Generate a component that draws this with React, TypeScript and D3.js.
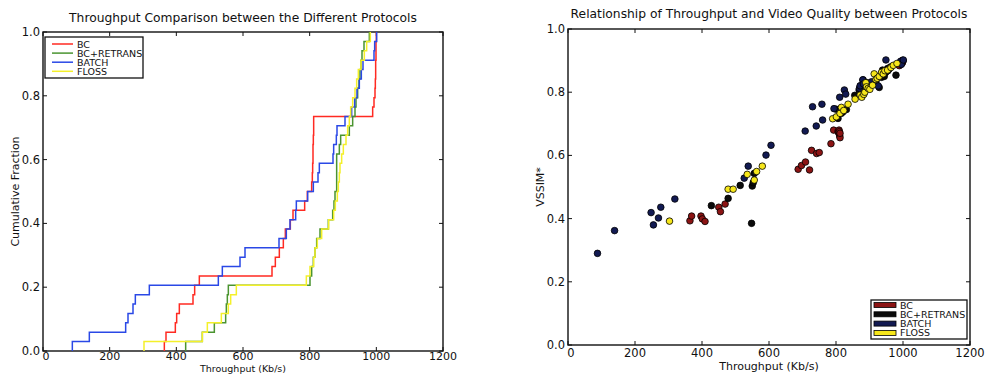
import React from "react";
import * as d3 from "d3";

const protocols = ["BC", "BC+RETRANS", "BATCH", "FLOSS"];

const bcThroughput = [364, 369, 397, 401, 409, 450, 455, 469, 687, 697, 709, 721, 727, 742, 750, 785, 793, 806, 808, 809, 810, 810, 811, 812, 812, 989, 993, 996, 997, 998, 998, 999, 999, 1000];
const bcVssim = [0.393, 0.408, 0.408, 0.399, 0.391, 0.436, 0.422, 0.446, 0.556, 0.568, 0.579, 0.554, 0.616, 0.606, 0.609, 0.637, 0.680, 0.676, 0.672, 0.680, 0.668, 0.675, 0.662, 0.656, 0.670, 0.884, 0.889, 0.893, 0.896, 0.899, 0.893, 0.901, 0.896, 0.899];

const retransThroughput = [428, 478, 514, 548, 550, 553, 556, 801, 806, 811, 816, 821, 831, 856, 869, 873, 876, 881, 881, 881, 881, 889, 893, 919, 929, 936, 939, 944, 948, 951, 954, 957, 963, 979];
const retransVssim = [0.441, 0.464, 0.505, 0.385, 0.503, 0.514, 0.543, 0.746, 0.717, 0.744, 0.733, 0.738, 0.745, 0.790, 0.807, 0.820, 0.800, 0.839, 0.815, 0.825, 0.810, 0.822, 0.830, 0.833, 0.815, 0.847, 0.870, 0.850, 0.862, 0.868, 0.875, 0.872, 0.880, 0.854];

const batchThroughput = [88, 139, 248, 255, 270, 277, 319, 526, 538, 591, 606, 708, 730, 741, 758, 760, 794, 811, 825, 829, 870, 872, 880, 882, 906, 926, 935, 942, 949, 955, 960, 993, 995, 1001];
const batchVssim = [0.290, 0.362, 0.419, 0.380, 0.402, 0.436, 0.462, 0.528, 0.566, 0.601, 0.632, 0.677, 0.754, 0.693, 0.762, 0.712, 0.748, 0.784, 0.807, 0.794, 0.812, 0.820, 0.839, 0.826, 0.833, 0.820, 0.857, 0.862, 0.902, 0.868, 0.876, 0.898, 0.888, 0.902];

const flossThroughput = [303, 478, 493, 535, 556, 563, 580, 790, 801, 812, 816, 823, 836, 857, 872, 877, 883, 886, 889, 891, 896, 901, 909, 914, 919, 923, 929, 936, 941, 946, 954, 964, 971, 982];
const flossVssim = [0.392, 0.493, 0.493, 0.540, 0.522, 0.549, 0.566, 0.716, 0.722, 0.733, 0.752, 0.742, 0.762, 0.778, 0.791, 0.784, 0.793, 0.800, 0.830, 0.817, 0.812, 0.809, 0.822, 0.858, 0.840, 0.844, 0.850, 0.863, 0.858, 0.868, 0.870, 0.878, 0.885, 0.891];

const xTicks = [0, 200, 400, 600, 800, 1000, 1200];
const yTicks = [0, 0.2, 0.4, 0.6, 0.8, 1.0];

const throughputs = [bcThroughput, retransThroughput, batchThroughput, flossThroughput];
const vssims = [bcVssim, retransVssim, batchVssim, flossVssim];

const lineColors = ["#ff2a22", "#4a9430", "#2a48e6", "#f4f02a"];
const dotColors = ["#8c1414", "#0b0b0b", "#121a52", "#f6e61a"];

const FONT = "DejaVu Sans, sans-serif";

type Box = { left: number; top: number; width: number; height: number };

function Frame({ box, xs, ys, title, titleY, xLabel, xLabelY, xLabelSize, yLabel, yLabelX, tickY, xTickSize }: any) {
  const b: Box = box;
  const bottom = b.top + b.height;
  const right = b.left + b.width;
  return (
    <g fontFamily={FONT} fill="#111">
      {xTicks.map((t) => (
        <g key={"x" + t}>
          <line x1={xs(t)} x2={xs(t)} y1={bottom} y2={bottom - 4} stroke="#111" />
          <line x1={xs(t)} x2={xs(t)} y1={b.top} y2={b.top + 4} stroke="#111" />
          <text x={xs(t) + (t === 0 ? 3 : 0)} y={bottom + tickY} fontSize={xTickSize} textAnchor="middle">{t}</text>
        </g>
      ))}
      {yTicks.map((t) => (
        <g key={"y" + t}>
          <line x1={b.left} x2={b.left + 4} y1={ys(t)} y2={ys(t)} stroke="#111" />
          <line x1={right} x2={right - 4} y1={ys(t)} y2={ys(t)} stroke="#111" />
          <text x={b.left - 3} y={ys(t) + 4} fontSize={11.5} textAnchor="end">{t.toFixed(1)}</text>
        </g>
      ))}
      <rect x={b.left} y={b.top} width={b.width} height={b.height} fill="none" stroke="#111" strokeWidth={1.4} />
      <text x={b.left + b.width / 2} y={titleY} fontSize={12.3} textAnchor="middle">{title}</text>
      <text x={b.left + b.width / 2} y={xLabelY} fontSize={xLabelSize} textAnchor="middle">{xLabel}</text>
      <text transform={`translate(${yLabelX},${b.top + b.height / 2}) rotate(-90)`} fontSize={11} textAnchor="middle">{yLabel}</text>
    </g>
  );
}

function CdfChart() {
  const box: Box = { left: 43, top: 32, width: 400, height: 319 };
  const xs = d3.scaleLinear().domain([0, 1200]).range([box.left, box.left + box.width]);
  const ys = d3.scaleLinear().domain([0, 1]).range([box.top + box.height, box.top]);
  const line = d3.line<[number, number]>().x((d) => xs(d[0])).y((d) => ys(d[1]));
  const paths = throughputs.map((arr) => {
    const sorted = [...arr].sort((a, b) => a - b);
    const n = sorted.length;
    const pts: [number, number][] = [];
    sorted.forEach((v, i) => {
      pts.push([v, i / n]);
      pts.push([v, (i + 1) / n]);
    });
    return line(pts) as string;
  });
  const lg = { x: 45, y: 37, w: 98, h: 41 };
  return (
    <g>
      <Frame box={box} xs={xs} ys={ys}
        title="Throughput Comparison between the Different Protocols" titleY={22}
        xLabel="Throughput (Kb/s)" xLabelY={371.6} xLabelSize={9.5} tickY={9} xTickSize={11}
        yLabel="Cumulative Fraction" yLabelX={19} />
      {paths.map((p, i) => (
        <path key={i} d={p} fill="none" stroke={lineColors[i]} strokeWidth={1.5} />
      ))}
      <rect x={lg.x} y={lg.y} width={lg.w} height={lg.h} fill="white" stroke="#111" strokeWidth={1.3} />
      {protocols.map((name, i) => (
        <g key={name}>
          <line x1={52} x2={73} y1={44 + i * 9.1} y2={44 + i * 9.1} stroke={lineColors[i]} strokeWidth={1.5} />
          <text x={77} y={47.5 + i * 9.1} fontSize={9.5} fontFamily={FONT} fill="#111">{name}</text>
        </g>
      ))}
    </g>
  );
}

function ScatterChart() {
  const box: Box = { left: 568, top: 29, width: 402, height: 316 };
  const xs = d3.scaleLinear().domain([0, 1200]).range([box.left, box.left + box.width]);
  const ys = d3.scaleLinear().domain([0, 1]).range([box.top + box.height, box.top]);
  const lg = { x: 871, y: 300, w: 96, h: 39 };
  return (
    <g>
      <Frame box={box} xs={xs} ys={ys}
        title="Relationship of Throughput and Video Quality between Protocols" titleY={18}
        xLabel="Throughput (Kb/s)" xLabelY={370} xLabelSize={11} tickY={11.5} xTickSize={11.5}
        yLabel="VSSIM*" yLabelX={544} />
      {throughputs.map((arr, i) => (
        <g key={i}>
          {arr.map((v, j) => (
            <circle key={j} cx={xs(v)} cy={ys(vssims[i][j])} r={3.3} fill={dotColors[i]} stroke="#000" strokeWidth={0.8} />
          ))}
        </g>
      ))}
      <rect x={lg.x} y={lg.y} width={lg.w} height={lg.h} fill="white" stroke="#111" strokeWidth={1.3} />
      {protocols.map((name, i) => (
        <g key={name}>
          <rect x={874} y={302.5 + i * 9.3} width={22} height={5} fill={dotColors[i]} stroke="#000" strokeWidth={0.8} />
          <text x={900} y={308.5 + i * 9.3} fontSize={9.5} fontFamily={FONT} fill="#111">{name}</text>
        </g>
      ))}
    </g>
  );
}

export default function App() {
  return (
    <svg width={987} height={374} style={{ position: "absolute", left: 0, top: 0, background: "white" }}>
      <rect x={0} y={0} width={987} height={374} fill="white" />
      <CdfChart />
      <ScatterChart />
    </svg>
  );
}
